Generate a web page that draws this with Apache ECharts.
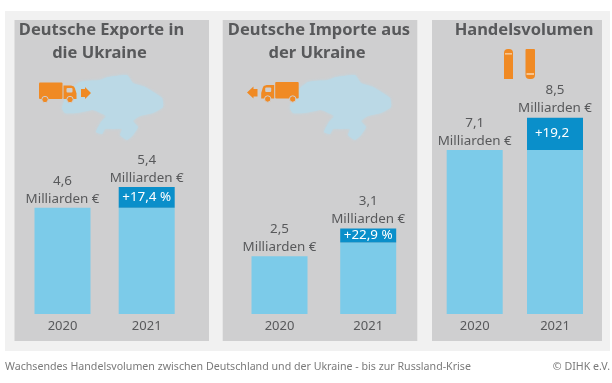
<!DOCTYPE html>
<html><head><meta charset="utf-8">
<style>html,body{margin:0;padding:0;background:#fff}#c{width:612px;height:383px}</style>
<script src="https://cdn.jsdelivr.net/npm/echarts@6/dist/echarts.min.js"></script>
</head><body><div id="c"></div>
<script>
const years = ['2020', '2021'];
const exportBase = [4.6, 4.6];
const exportDelta = [0, 0.9];
const exportValues = ['4,6', '5,4'];
const exportChange = ['', '+17,4 %'];
const importBase = [2.5, 3.1];
const importDelta = [0, 0.6];
const importValues = ['2,5', '3,1'];
const importChange = ['', '+22,9 %'];
const volumeBase = [7.1, 7.1];
const volumeDelta = [0, 1.4];
const volumeValues = ['7,1', '8,5'];
const volumeChange = ['', '+19,2'];
const unit = 'Milliarden €';
const caption = 'Wachsendes Handelsvolumen zwischen Deutschland und der Ukraine - bis zur Russland-Krise';
const credit = '© DIHK e.V.';

const FONT = '"Noto Sans", sans-serif';
const TXT = '#58595b', ORANGE = '#f08a24', GRAY = '#cfcfd0', LIGHT = '#7ccbe9', DARK = '#0a8fca', MAP = '#bbd9e6';

const panels = [
  {title: ['Deutsche Exporte in', 'die Ukraine'], cx: [101.5, 99.5], x: 14.5, w: 194.5, gl: 20.4, gw: 168.4, base: exportBase, delta: exportDelta, vals: exportValues, chg: exportChange, chgOff: [0, 0]},
  {title: ['Deutsche Importe aus', 'der Ukraine'], cx: [319, 317], x: 222.7, w: 194.6, gl: 235.15, gw: 177.4, base: importBase, delta: importDelta, vals: importValues, chg: importChange, chgOff: [0, 0]},
  {title: ['Handelsvolumen'], cx: [524], x: 432, w: 170, gl: 434.55, gw: 160.6, base: volumeBase, delta: volumeDelta, vals: volumeValues, chg: volumeChange, chgOff: [-3, -1]}
];

const grid = [], xAxis = [], yAxis = [], series = [], title = [];
const graphic = [
  {type: 'rect', shape: {x: 5, y: 11, width: 605, height: 340}, style: {fill: '#f1f1f1'}, z: -3, silent: true}
];
panels.forEach((p, i) => {
  graphic.push({type: 'rect', shape: {x: p.x, y: 20, width: p.w, height: 321}, style: {fill: GRAY}, z: -2, silent: true});
  p.title.forEach((t, k) => title.push({
    text: t, left: p.cx[k], top: 19 + k * 23, textAlign: 'center', padding: 0,
    textStyle: {fontFamily: FONT, fontWeight: 700, fontSize: 16.5, color: TXT, lineHeight: 22}
  }));
  grid.push({left: p.gl, width: p.gw, top: 106.1, height: 207.9, containLabel: false});
  xAxis.push({type: 'category', gridIndex: i, data: years,
    axisLine: {show: false}, axisTick: {show: false},
    axisLabel: {fontFamily: FONT, fontSize: 13, color: TXT, margin: 5.5}});
  yAxis.push({type: 'value', gridIndex: i, min: 0, max: 9, interval: 1, show: false, splitLine: {show: false}});
  const st = 's' + i;
  series.push({type: 'bar', xAxisIndex: i, yAxisIndex: i, stack: st, barWidth: 56, data: p.base, itemStyle: {color: LIGHT}, silent: true});
  series.push({type: 'bar', xAxisIndex: i, yAxisIndex: i, stack: st, barWidth: 56, data: p.delta, itemStyle: {color: DARK}, silent: true,
    label: {show: true, position: 'inside', offset: p.chgOff, fontFamily: FONT, fontSize: 13.4, color: '#fff',
      formatter: o => p.chg[o.dataIndex]}});
  series.push({type: 'bar', xAxisIndex: i, yAxisIndex: i, stack: st, barWidth: 56, data: [0, 0], itemStyle: {color: 'transparent'}, silent: true,
    label: {show: true, position: 'top', distance: 0, fontFamily: FONT, fontSize: 13.4, lineHeight: 18, color: TXT,
      formatter: o => p.vals[o.dataIndex] + '\n' + unit}});
});

// decorative Ukraine silhouette (shared outline, placed per panel)
const outline = [[62,108],[68,92],[80,82],[100,80],[108,77],[127,75],[133,83],[145,87],[162,98],[163,107],[153,113],[140,116],[133,121],[138,127],[133,135],[127,140],[120,135],[122,129],[113,129],[105,129],[102,134],[96,132],[101,122],[106,116],[93,110],[77,113],[65,113]];
[0, 228].forEach(dx => graphic.push({type: 'polygon', x: dx, shape: {points: outline, smooth: 0.15},
  style: {fill: MAP, shadowBlur: 3, shadowColor: MAP}, z: -1, silent: true}));

// truck pictogram: origin at left of cargo box, facing right
function truck(x, y, sx) {
  return {type: 'group', x: x, y: y, scaleX: sx, silent: true, children: [
    {type: 'rect', shape: {x: 0, y: 0, width: 23.5, height: 16.5, r: 1}, style: {fill: ORANGE}},
    {type: 'polygon', shape: {points: [[24.5,3],[32,3],[35,4],[36,6],[37.5,11],[37.5,16.5],[24.5,16.5]]}, style: {fill: ORANGE}},
    {type: 'rect', shape: {x: 27.5, y: 5.5, width: 6, height: 4.5, r: 1}, style: {fill: GRAY}},
    {type: 'circle', shape: {cx: 6, cy: 17, r: 3.2}, style: {fill: ORANGE, stroke: GRAY, lineWidth: 1}},
    {type: 'circle', shape: {cx: 31, cy: 17, r: 3.2}, style: {fill: ORANGE, stroke: GRAY, lineWidth: 1}}
  ]};
}
graphic.push(truck(39, 82.5, 1));
graphic.push(truck(298.7, 82, -1));
graphic.push({type: 'polygon', silent: true, shape: {points: [[81,89],[85,89],[85,87],[91,93],[85,99],[85,97],[81,97]]}, style: {fill: ORANGE}});
graphic.push({type: 'polygon', silent: true, shape: {points: [[257.5,89],[253.5,89],[253.5,86.5],[247,92.5],[253.5,98.5],[253.5,96.5],[257.5,96.5]]}, style: {fill: ORANGE}});
// vertical trucks in third panel
graphic.push({type: 'rect', silent: true, shape: {x: 504, y: 49, width: 9, height: 30, r: [4, 4, 0, 0]}, style: {fill: ORANGE}});
graphic.push({type: 'rect', silent: true, shape: {x: 505, y: 53, width: 7, height: 1.6}, style: {fill: '#f7c48f'}});
graphic.push({type: 'rect', silent: true, shape: {x: 525.5, y: 49, width: 9.5, height: 30, r: [1, 1, 4, 4]}, style: {fill: ORANGE}});
graphic.push({type: 'rect', silent: true, shape: {x: 526.5, y: 73, width: 7.5, height: 2}, style: {fill: '#f7c48f'}});

graphic.push({type: 'text', x: 5, y: 367, silent: true, style: {text: caption, font: '10.65px ' + FONT, fill: '#7a7a7a', verticalAlign: 'middle'}});
graphic.push({type: 'text', x: 610, y: 367, silent: true, style: {text: credit, font: '10.65px ' + FONT, fill: '#7a7a7a', align: 'right', verticalAlign: 'middle'}});

echarts.init(document.getElementById('c'), null, {renderer: 'canvas'}).setOption({
  animation: false, backgroundColor: '#fff', title, grid, xAxis, yAxis, series, graphic
});
</script></body></html>
